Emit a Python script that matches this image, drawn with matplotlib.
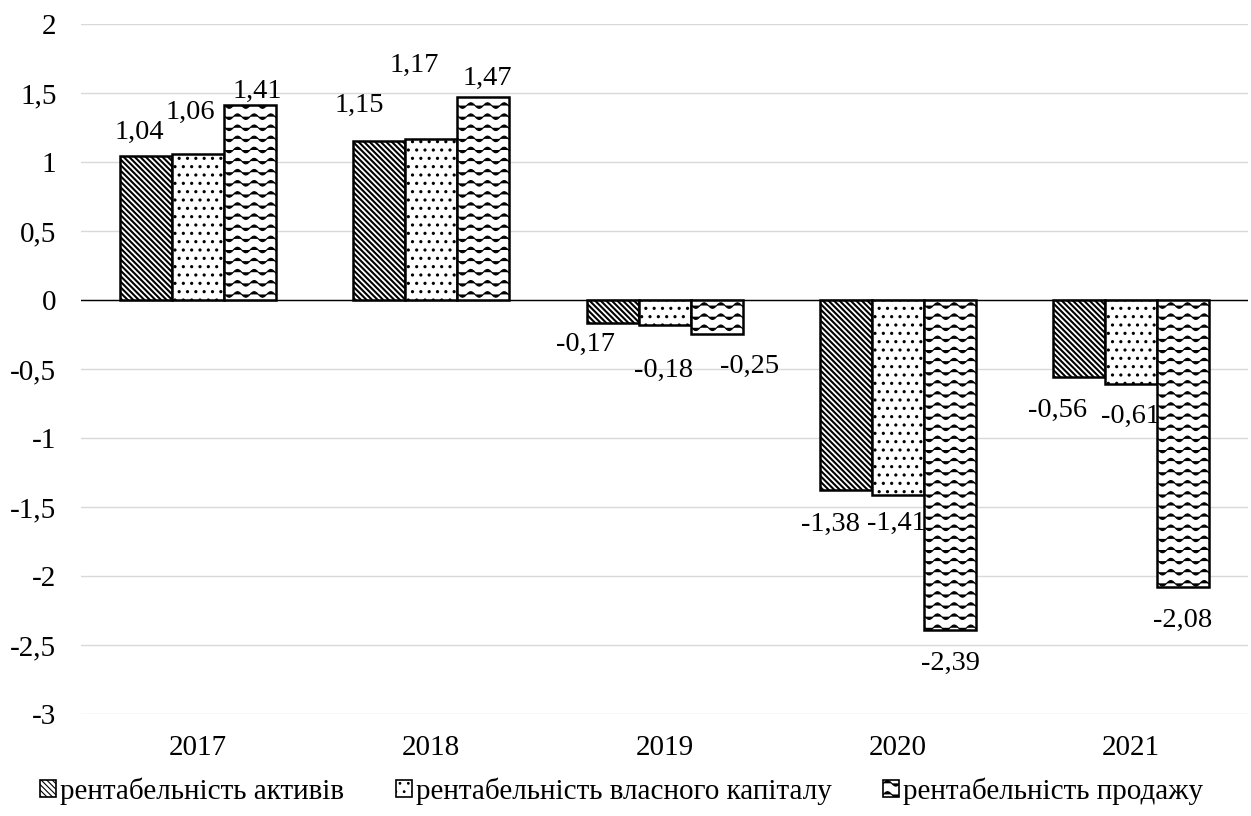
import warnings
import numpy as np
import matplotlib
matplotlib.use("Agg")
import matplotlib.pyplot as plt
from matplotlib import hatch as mhatch
from matplotlib.path import Path

# --- data -------------------------------------------------------------------
years = ["2017", "2018", "2019", "2020", "2021"]
series_names = [
    "рентабельність активів",
    "рентабельність власного капіталу",
    "рентабельність продажу",
]
roa = [1.04, 1.15, -0.17, -1.38, -0.56]
roe = [1.06, 1.17, -0.18, -1.41, -0.61]
ros = [1.41, 1.47, -0.25, -2.39, -2.08]

y_ticks = [-3, -2.5, -2, -1.5, -1, -0.5, 0, 0.5, 1, 1.5, 2]
y_tick_labels = ["-3", "-2,5", "-2", "-1,5", "-1", "-0,5", "0", "0,5", "1", "1,5", "2"]

# value label nudges in pixels (dx, dy from bar end), one row per series
label_dx = [[-7, -20, -27, -15, -21],
            [-8, -17, -1, -1, -1],
            [7, 4, 33, 1, 0]]
label_dy = [[18, 29, -27, -40, -40],
            [35, 67, -52, -35, -39],
            [8, 12, -38, -40, -40]]


# --- wavy hatch (no built-in one in matplotlib) --------------------------------
class WaveHatch(mhatch.HatchPatternBase):
    def __init__(self, hatch, density):
        self.num_rows = int(hatch.count("~") * density * 1.5)
        self.num_pts = 73
        self.num_vertices = self.num_rows * self.num_pts

    def set_vertices_and_codes(self, vertices, codes):
        t = np.linspace(0.0, 1.0, self.num_pts)
        for i in range(self.num_rows):
            sl = slice(i * self.num_pts, (i + 1) * self.num_pts)
            vertices[sl, 0] = t
            vertices[sl, 1] = (i + 0.5) / self.num_rows + 0.028 * np.sin(2 * np.pi * 6 * t)
            codes[sl] = Path.LINETO
            codes[i * self.num_pts] = Path.MOVETO


mhatch._hatch_types.append(WaveHatch)
warnings.filterwarnings("ignore", message=".*hatch must consist.*")

plt.rcParams["font.family"] = ["Liberation Serif", "DejaVu Serif"]

fig = plt.figure(figsize=(12.51, 8.16), dpi=100)
ax = fig.add_axes([0.0651, 0.125, 0.9322, 0.8456])

x = np.arange(len(years))
w = 0.223
hatches = ["\\" * 6, "..", "~"]
hatch_lw = [1.5, 1.1, 0.8]
values = [roa, roe, ros]

handles = []
for j, (vals, name) in enumerate(zip(values, series_names)):
    plt.rcParams["hatch.linewidth"] = hatch_lw[j]
    bars = ax.bar(x + (j - 1) * w, vals, width=w, color="white", edgecolor="black",
                  linewidth=1.8, hatch=hatches[j], label=name, zorder=3)
    for b in bars:
        if hasattr(b, "set_hatch_linewidth"):
            b.set_hatch_linewidth(hatch_lw[j])
    handles.append(bars)
    for i, v in enumerate(vals):
        txt = f"{v:.2f}".replace(".", ",")
        ax.annotate(txt, (x[i] + (j - 1) * w, v), xytext=(label_dx[j][i], label_dy[j][i]),
                    textcoords="offset pixels", ha="center", va="baseline",
                    fontsize=20.5, zorder=5)

ax.axhline(0, color="black", linewidth=1.0, zorder=2)

ax.set_xlim(-0.5, len(years) - 0.5)
ax.set_ylim(-3, 2)
ax.set_xticks(x)
ax.set_xticklabels(years)
ax.set_yticks(y_ticks)
ax.set_yticklabels(y_tick_labels)
ax.tick_params(axis="both", length=0, labelsize=21)
ax.tick_params(axis="y", pad=18)
ax.tick_params(axis="x", pad=15)
ax.grid(axis="y", color="#d9d9d9", linewidth=1.0, zorder=0)
ax.set_axisbelow(True)
for s in ax.spines.values():
    s.set_visible(False)

leg = fig.legend(handles=handles, labels=series_names, loc="center",
                 bbox_to_anchor=(0.497, 1 - 791 / 816), ncol=3, frameon=False, fontsize=21,
                 handlelength=0.55, handleheight=0.55, handletextpad=0.15, columnspacing=1.75)
for p in leg.get_patches():
    p.set_linewidth(1.2)

fig.savefig("out.png", dpi=100)
